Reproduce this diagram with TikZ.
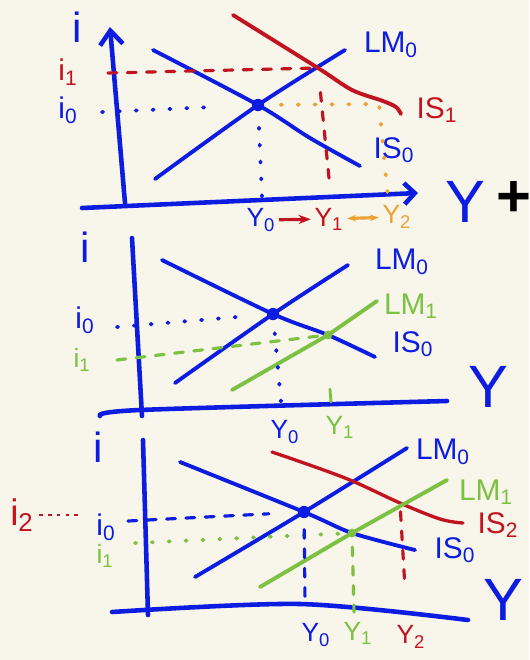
\documentclass[tikz,border=0pt]{standalone}
\usepackage{fontspec}
\setmainfont{Liberation Sans}
\usepackage{xcolor}
\usetikzlibrary{positioning, arrows.meta, calc}
\definecolor{paper}{HTML}{F8F5EA}
\definecolor{penblue}{HTML}{0C1CE0}
\definecolor{penred}{HTML}{C21420}
\definecolor{penorange}{HTML}{EDA234}
\definecolor{pengreen}{HTML}{7CC142}
\tikzset{
  axisline/.style={
    line width=2.6pt,
    line cap=round,
    line join=round
  },
  curveline/.style={
    line width=2.2pt,
    line cap=round
  },
  dashline/.style={
    line width=1.8pt,
    line cap=round,
    dash pattern=on 5pt off 6pt
  },
  dotline/.style={
    line width=2.2pt,
    line cap=round,
    dash pattern=on 0.6pt off 9pt
  },
  eqdot/.style={
    circle,
    fill,
    inner sep=0pt,
    minimum size=7pt
  },
  curvelabel/.style={
    font=\fontsize{17}{19}\selectfont,
    inner sep=0pt
  },
  ticklabel/.style={
    font=\fontsize{15}{17}\selectfont,
    inner sep=0pt
  },
  axislabel/.style={
    font=\fontsize{24}{26}\selectfont,
    inner sep=0pt
  },
  biglabel/.style={
    font=\fontsize{34}{36}\selectfont,
    inner sep=0pt
  },
  shiftarrow/.style={
    line width=1.8pt,
    shorten >=2pt,
    shorten <=2pt
  }
}

\begin{document}
\begin{tikzpicture}[x=0.02cm, y=-0.02cm]
  \fill[paper] (0,0) rectangle (529,660);
  \useasboundingbox (0,0) rectangle (529,660);

  % upper panel
  \coordinate (oA) at (125,203);
  \coordinate (topA) at (110,27);
  \coordinate (leftA) at (82,208);
  \coordinate (rightA) at (418,193);
  \coordinate (eA) at (258,105);
  \coordinate (fA) at (318,68);
  \draw[axisline, penblue, -{Straight Barb[length=8pt, width=13pt]}] (oA) -- (topA);
  \draw[axisline, penblue, -{Straight Barb[length=6pt, width=12pt]}] (leftA) -- (rightA);
  \node[axislabel, penblue] (iA) at (77,27) {i};
  \node[biglabel, penblue] (yA) at (465,202) {Y};
  \node[font=\fontsize{34}{36}\bfseries\selectfont, inner sep=0pt] (plus) at (514,199) {+};

  \draw[curveline, penblue] plot[smooth] coordinates {(155,179) (eA) (345,50)};
  \draw[curveline, penblue] plot[smooth] coordinates {(153,50) (eA) (310,138) (360,166)};
  \draw[curveline, penred] plot[smooth, tension=0.5] coordinates {(233,15) (fA) (352,90) (383,101) (396,107) (401,114)};
  \node[eqdot, penblue] (dotA) at (eA) {};

  \node[curvelabel, penblue] (lmA) at (391,45) {LM\textsubscript{0}};
  \node[curvelabel, penred] (isAone) at (437,110) {IS\textsubscript{1}};
  \node[curvelabel, penblue] (isA) at (394,150) {IS\textsubscript{0}};
  \node[curvelabel, penred] (iAone) at (68,72) {i\textsubscript{1}};
  \node[curvelabel, penblue] (iAzero) at (68,110) {i\textsubscript{0}};

  \coordinate (cA) at (379,104);
  \draw[dashline, penred] (108,73) -- (fA);
  \draw[dashline, penred, shorten <=14pt] (fA) -- (330,188);
  \draw[dotline, penblue, shorten >=25pt] (102,112) -- (eA);
  \draw[dotline, penblue, shorten <=13pt] (eA) -- (262,197);
  \draw[dotline, penorange, shorten <=13pt] (eA) -- (cA) -- (388,198);

  \node[ticklabel, penblue] (yAzero) at (261,220) {Y\textsubscript{0}};
  \node[ticklabel, penred] (yAone) at (329,219) {Y\textsubscript{1}};
  \node[ticklabel, penorange] (yAtwo) at (397,217) {Y\textsubscript{2}};
  \draw[shiftarrow, penred, -{Stealth[length=7pt]}] (yAzero) -- (yAone);
  \draw[shiftarrow, penorange, {Stealth[length=5pt]}-{Stealth[length=5pt]}] (yAone) -- (yAtwo);

  % middle panel
  \coordinate (eB) at (273,314);
  \coordinate (fB) at (328,335);
  \draw[axisline, penblue] (132,238) -- (142,416);
  \draw[axisline, penblue] plot[smooth] coordinates {(100,416) (140,410) (447,401)};
  \node[axislabel, penblue] (iB) at (85,247) {i};
  \node[biglabel, penblue] (yB) at (488,387) {Y};

  \draw[curveline, penblue] plot[smooth] coordinates {(162,260) (eB) (fB) (375,357)};
  \draw[curveline, penblue] plot[smooth] coordinates {(175,383) (eB) (348,265)};
  \draw[curveline, pengreen] (232,390) -- (fB) -- (377,301);
  \node[eqdot, penblue] (dotB) at (eB) {};
  \node[eqdot, pengreen, minimum size=5pt] (dotBone) at (fB) {};

  \node[curvelabel, penblue] (lmB) at (402,262) {LM\textsubscript{0}};
  \node[curvelabel, pengreen] (lmBone) at (411,306) {LM\textsubscript{1}};
  \node[curvelabel, penblue] (isB) at (413,344) {IS\textsubscript{0}};
  \node[curvelabel, penblue] (iBzero) at (85,320) {i\textsubscript{0}};
  \node[ticklabel, pengreen] (iBone) at (82,360) {i\textsubscript{1}};

  \draw[dotline, penblue, shorten >=14pt] (117,327) -- (eB);
  \draw[dashline, pengreen, shorten >=4pt] (117,360) -- (fB);
  \draw[dotline, penblue, shorten <=11pt] (eB) -- (282,413);
  \draw[curveline, pengreen, line width=1.6pt] (330,389) -- (331,402);

  \node[ticklabel, penblue] (yBzero) at (285,432) {Y\textsubscript{0}};
  \node[ticklabel, pengreen] (yBone) at (340,427) {Y\textsubscript{1}};

  % lower panel
  \coordinate (eC) at (304,512);
  \coordinate (fC) at (352,533);
  \coordinate (gC) at (400,503);
  \draw[axisline, penblue] (143,440) -- (148,615);
  \draw[axisline, penblue] plot[smooth] coordinates {(112,612) (300,604) (468,620)};
  \node[axislabel, penblue] (iC) at (98,447) {i};
  \node[biglabel, penblue] (yC) at (503,600) {Y};

  \draw[curveline, penblue] plot[smooth] coordinates {(180,462) (eC) (fC) (415,550)};
  \draw[curveline, penblue] plot[smooth] coordinates {(195,577) (eC) (407,448)};
  \draw[curveline, penred, line width=1.9pt] plot[smooth, tension=0.6] coordinates {(272,452) (345,478) (gC) (440,519) (463,523)};
  \draw[curveline, pengreen] (260,587) -- (fC) -- (447,480);
  \node[eqdot, penblue] (dotC) at (eC) {};
  \node[eqdot, pengreen, minimum size=5pt] (dotCone) at (fC) {};

  \node[curvelabel, penblue] (lmC) at (443,452) {LM\textsubscript{0}};
  \node[curvelabel, pengreen] (lmCone) at (486,492) {LM\textsubscript{1}};
  \node[curvelabel, penred] (isCtwo) at (498,525) {IS\textsubscript{2}};
  \node[curvelabel, penblue] (isC) at (455,550) {IS\textsubscript{0}};
  \node[curvelabel, penblue] (iCzero) at (106,527) {i\textsubscript{0}};
  \node[curvelabel, penred, font=\fontsize{21}{23}\selectfont] (iCtwo) at (22,515) {i\textsubscript{2}};
  \node[ticklabel, pengreen] (iCone) at (105,556) {i\textsubscript{1}};

  \coordinate (dC) at (83,515);
  \draw[penred, line width=1.6pt, dash pattern=on 2pt off 3pt, shorten <=3pt] (iCtwo.east) -- (dC);
  \draw[dashline, penblue, shorten >=20pt] (128,521) -- (eC);
  \draw[dotline, pengreen, shorten >=5pt] (135,543) -- (fC);
  \draw[dashline, penblue, shorten <=10pt] (eC) -- (305,603);
  \draw[dashline, pengreen, shorten <=8pt] (fC) -- (354,612);
  \draw[dashline, penred, shorten <=5pt] (gC) -- (405,588);

  \node[ticklabel, penblue] (yCzero) at (316,635) {Y\textsubscript{0}};
  \node[ticklabel, pengreen] (yCone) at (358,633) {Y\textsubscript{1}};
  \node[ticklabel, penred] (yCtwo) at (411,637) {Y\textsubscript{2}};
\end{tikzpicture}
\end{document}
